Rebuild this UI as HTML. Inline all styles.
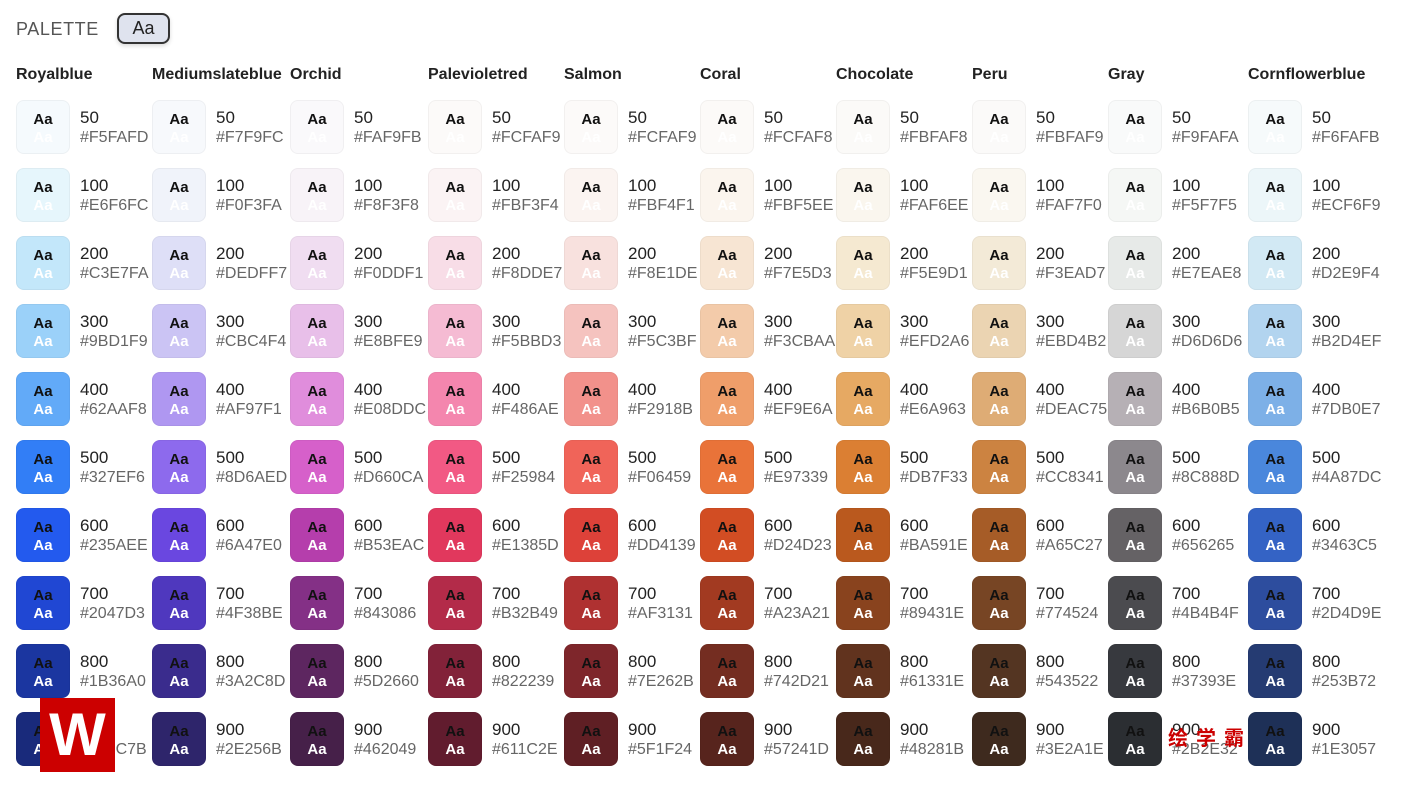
<!DOCTYPE html>
<html><head><meta charset="utf-8"><style>
*{margin:0;padding:0;box-sizing:border-box}
body{width:1414px;height:800px;background:#fff;position:relative;overflow:hidden;font-family:"Liberation Sans",sans-serif}
.t{position:absolute;left:16px;top:19px;font-size:18px;letter-spacing:0.6px;color:#555}
.btn{position:absolute;left:117px;top:13px;width:53px;height:31px;border:2px solid #333;border-radius:8px;background:#dfe3ee;font-size:18px;color:#222;text-align:center;line-height:27px;box-shadow:0 2px 4px rgba(0,0,0,.15)}
.h{position:absolute;top:66px;font-size:16px;font-weight:bold;color:#222;white-space:nowrap}
.c{position:absolute;width:136px;height:54px}
.c i{position:absolute;left:0;top:0;width:54px;height:54px;border-radius:8px;border:1px solid rgba(0,0,0,.04);font-style:normal;font-weight:bold;font-size:15px;text-align:center}
.c i b{position:absolute;left:0;right:0;top:10px;color:#111}
.c i u{position:absolute;left:0;right:0;top:28px;color:#fff;text-decoration:none}
.c s{position:absolute;left:64px;top:8px;font-size:17px;color:#222;text-decoration:none}
.c em{position:absolute;left:64px;top:29px;font-size:16px;color:#666;font-style:normal}
.logo{position:absolute;left:40px;top:698px;width:75px;height:74px;background:#c00;color:#fff;font-size:60px;font-weight:bold;text-align:center;line-height:74px}
.wm{position:absolute;left:1168px;top:722px;color:#c00;font-size:20px;font-weight:bold;letter-spacing:8px;font-family:"Liberation Sans","Noto Sans CJK SC",sans-serif}
</style></head><body>
<div class="t">PALETTE</div><div class="btn">Aa</div>
<div class="h" style="left:16px">Royalblue</div>
<div class="h" style="left:152px">Mediumslateblue</div>
<div class="h" style="left:290px">Orchid</div>
<div class="h" style="left:428px">Palevioletred</div>
<div class="h" style="left:564px">Salmon</div>
<div class="h" style="left:700px">Coral</div>
<div class="h" style="left:836px">Chocolate</div>
<div class="h" style="left:972px">Peru</div>
<div class="h" style="left:1108px">Gray</div>
<div class="h" style="left:1248px">Cornflowerblue</div>

<!-- Royalblue -->
<div class="c" style="left:16px;top:100px"><i style="background:#F5FAFD"><b>Aa</b><u>Aa</u></i><s>50</s><em>#F5FAFD</em></div>
<div class="c" style="left:16px;top:168px"><i style="background:#E6F6FC"><b>Aa</b><u>Aa</u></i><s>100</s><em>#E6F6FC</em></div>
<div class="c" style="left:16px;top:236px"><i style="background:#C3E7FA"><b>Aa</b><u>Aa</u></i><s>200</s><em>#C3E7FA</em></div>
<div class="c" style="left:16px;top:304px"><i style="background:#9BD1F9"><b>Aa</b><u>Aa</u></i><s>300</s><em>#9BD1F9</em></div>
<div class="c" style="left:16px;top:372px"><i style="background:#62AAF8"><b>Aa</b><u>Aa</u></i><s>400</s><em>#62AAF8</em></div>
<div class="c" style="left:16px;top:440px"><i style="background:#327EF6"><b>Aa</b><u>Aa</u></i><s>500</s><em>#327EF6</em></div>
<div class="c" style="left:16px;top:508px"><i style="background:#235AEE"><b>Aa</b><u>Aa</u></i><s>600</s><em>#235AEE</em></div>
<div class="c" style="left:16px;top:576px"><i style="background:#2047D3"><b>Aa</b><u>Aa</u></i><s>700</s><em>#2047D3</em></div>
<div class="c" style="left:16px;top:644px"><i style="background:#1B36A0"><b>Aa</b><u>Aa</u></i><s>800</s><em>#1B36A0</em></div>
<div class="c" style="left:16px;top:712px"><i style="background:#192A7B"><b>Aa</b><u>Aa</u></i><s>900</s><em>#192C7B</em></div>
<!-- Mediumslateblue -->
<div class="c" style="left:152px;top:100px"><i style="background:#F7F9FC"><b>Aa</b><u>Aa</u></i><s>50</s><em>#F7F9FC</em></div>
<div class="c" style="left:152px;top:168px"><i style="background:#F0F3FA"><b>Aa</b><u>Aa</u></i><s>100</s><em>#F0F3FA</em></div>
<div class="c" style="left:152px;top:236px"><i style="background:#DEDFF7"><b>Aa</b><u>Aa</u></i><s>200</s><em>#DEDFF7</em></div>
<div class="c" style="left:152px;top:304px"><i style="background:#CBC4F4"><b>Aa</b><u>Aa</u></i><s>300</s><em>#CBC4F4</em></div>
<div class="c" style="left:152px;top:372px"><i style="background:#AF97F1"><b>Aa</b><u>Aa</u></i><s>400</s><em>#AF97F1</em></div>
<div class="c" style="left:152px;top:440px"><i style="background:#8D6AED"><b>Aa</b><u>Aa</u></i><s>500</s><em>#8D6AED</em></div>
<div class="c" style="left:152px;top:508px"><i style="background:#6A47E0"><b>Aa</b><u>Aa</u></i><s>600</s><em>#6A47E0</em></div>
<div class="c" style="left:152px;top:576px"><i style="background:#4F38BE"><b>Aa</b><u>Aa</u></i><s>700</s><em>#4F38BE</em></div>
<div class="c" style="left:152px;top:644px"><i style="background:#3A2C8D"><b>Aa</b><u>Aa</u></i><s>800</s><em>#3A2C8D</em></div>
<div class="c" style="left:152px;top:712px"><i style="background:#2E256B"><b>Aa</b><u>Aa</u></i><s>900</s><em>#2E256B</em></div>
<!-- Orchid -->
<div class="c" style="left:290px;top:100px"><i style="background:#FAF9FB"><b>Aa</b><u>Aa</u></i><s>50</s><em>#FAF9FB</em></div>
<div class="c" style="left:290px;top:168px"><i style="background:#F8F3F8"><b>Aa</b><u>Aa</u></i><s>100</s><em>#F8F3F8</em></div>
<div class="c" style="left:290px;top:236px"><i style="background:#F0DDF1"><b>Aa</b><u>Aa</u></i><s>200</s><em>#F0DDF1</em></div>
<div class="c" style="left:290px;top:304px"><i style="background:#E8BFE9"><b>Aa</b><u>Aa</u></i><s>300</s><em>#E8BFE9</em></div>
<div class="c" style="left:290px;top:372px"><i style="background:#E08DDC"><b>Aa</b><u>Aa</u></i><s>400</s><em>#E08DDC</em></div>
<div class="c" style="left:290px;top:440px"><i style="background:#D660CA"><b>Aa</b><u>Aa</u></i><s>500</s><em>#D660CA</em></div>
<div class="c" style="left:290px;top:508px"><i style="background:#B53EAC"><b>Aa</b><u>Aa</u></i><s>600</s><em>#B53EAC</em></div>
<div class="c" style="left:290px;top:576px"><i style="background:#843086"><b>Aa</b><u>Aa</u></i><s>700</s><em>#843086</em></div>
<div class="c" style="left:290px;top:644px"><i style="background:#5D2660"><b>Aa</b><u>Aa</u></i><s>800</s><em>#5D2660</em></div>
<div class="c" style="left:290px;top:712px"><i style="background:#462049"><b>Aa</b><u>Aa</u></i><s>900</s><em>#462049</em></div>
<!-- Palevioletred -->
<div class="c" style="left:428px;top:100px"><i style="background:#FCFAF9"><b>Aa</b><u>Aa</u></i><s>50</s><em>#FCFAF9</em></div>
<div class="c" style="left:428px;top:168px"><i style="background:#FBF3F4"><b>Aa</b><u>Aa</u></i><s>100</s><em>#FBF3F4</em></div>
<div class="c" style="left:428px;top:236px"><i style="background:#F8DDE7"><b>Aa</b><u>Aa</u></i><s>200</s><em>#F8DDE7</em></div>
<div class="c" style="left:428px;top:304px"><i style="background:#F5BBD3"><b>Aa</b><u>Aa</u></i><s>300</s><em>#F5BBD3</em></div>
<div class="c" style="left:428px;top:372px"><i style="background:#F486AE"><b>Aa</b><u>Aa</u></i><s>400</s><em>#F486AE</em></div>
<div class="c" style="left:428px;top:440px"><i style="background:#F25984"><b>Aa</b><u>Aa</u></i><s>500</s><em>#F25984</em></div>
<div class="c" style="left:428px;top:508px"><i style="background:#E1385D"><b>Aa</b><u>Aa</u></i><s>600</s><em>#E1385D</em></div>
<div class="c" style="left:428px;top:576px"><i style="background:#B32B49"><b>Aa</b><u>Aa</u></i><s>700</s><em>#B32B49</em></div>
<div class="c" style="left:428px;top:644px"><i style="background:#822239"><b>Aa</b><u>Aa</u></i><s>800</s><em>#822239</em></div>
<div class="c" style="left:428px;top:712px"><i style="background:#611C2E"><b>Aa</b><u>Aa</u></i><s>900</s><em>#611C2E</em></div>
<!-- Salmon -->
<div class="c" style="left:564px;top:100px"><i style="background:#FCFAF9"><b>Aa</b><u>Aa</u></i><s>50</s><em>#FCFAF9</em></div>
<div class="c" style="left:564px;top:168px"><i style="background:#FBF4F1"><b>Aa</b><u>Aa</u></i><s>100</s><em>#FBF4F1</em></div>
<div class="c" style="left:564px;top:236px"><i style="background:#F8E1DE"><b>Aa</b><u>Aa</u></i><s>200</s><em>#F8E1DE</em></div>
<div class="c" style="left:564px;top:304px"><i style="background:#F5C3BF"><b>Aa</b><u>Aa</u></i><s>300</s><em>#F5C3BF</em></div>
<div class="c" style="left:564px;top:372px"><i style="background:#F2918B"><b>Aa</b><u>Aa</u></i><s>400</s><em>#F2918B</em></div>
<div class="c" style="left:564px;top:440px"><i style="background:#F06459"><b>Aa</b><u>Aa</u></i><s>500</s><em>#F06459</em></div>
<div class="c" style="left:564px;top:508px"><i style="background:#DD4139"><b>Aa</b><u>Aa</u></i><s>600</s><em>#DD4139</em></div>
<div class="c" style="left:564px;top:576px"><i style="background:#AF3131"><b>Aa</b><u>Aa</u></i><s>700</s><em>#AF3131</em></div>
<div class="c" style="left:564px;top:644px"><i style="background:#7E262B"><b>Aa</b><u>Aa</u></i><s>800</s><em>#7E262B</em></div>
<div class="c" style="left:564px;top:712px"><i style="background:#5F1F24"><b>Aa</b><u>Aa</u></i><s>900</s><em>#5F1F24</em></div>
<!-- Coral -->
<div class="c" style="left:700px;top:100px"><i style="background:#FCFAF8"><b>Aa</b><u>Aa</u></i><s>50</s><em>#FCFAF8</em></div>
<div class="c" style="left:700px;top:168px"><i style="background:#FBF5EE"><b>Aa</b><u>Aa</u></i><s>100</s><em>#FBF5EE</em></div>
<div class="c" style="left:700px;top:236px"><i style="background:#F7E5D3"><b>Aa</b><u>Aa</u></i><s>200</s><em>#F7E5D3</em></div>
<div class="c" style="left:700px;top:304px"><i style="background:#F3CBAA"><b>Aa</b><u>Aa</u></i><s>300</s><em>#F3CBAA</em></div>
<div class="c" style="left:700px;top:372px"><i style="background:#EF9E6A"><b>Aa</b><u>Aa</u></i><s>400</s><em>#EF9E6A</em></div>
<div class="c" style="left:700px;top:440px"><i style="background:#E97339"><b>Aa</b><u>Aa</u></i><s>500</s><em>#E97339</em></div>
<div class="c" style="left:700px;top:508px"><i style="background:#D24D23"><b>Aa</b><u>Aa</u></i><s>600</s><em>#D24D23</em></div>
<div class="c" style="left:700px;top:576px"><i style="background:#A23A21"><b>Aa</b><u>Aa</u></i><s>700</s><em>#A23A21</em></div>
<div class="c" style="left:700px;top:644px"><i style="background:#742D21"><b>Aa</b><u>Aa</u></i><s>800</s><em>#742D21</em></div>
<div class="c" style="left:700px;top:712px"><i style="background:#57241D"><b>Aa</b><u>Aa</u></i><s>900</s><em>#57241D</em></div>
<!-- Chocolate -->
<div class="c" style="left:836px;top:100px"><i style="background:#FBFAF8"><b>Aa</b><u>Aa</u></i><s>50</s><em>#FBFAF8</em></div>
<div class="c" style="left:836px;top:168px"><i style="background:#FAF6EE"><b>Aa</b><u>Aa</u></i><s>100</s><em>#FAF6EE</em></div>
<div class="c" style="left:836px;top:236px"><i style="background:#F5E9D1"><b>Aa</b><u>Aa</u></i><s>200</s><em>#F5E9D1</em></div>
<div class="c" style="left:836px;top:304px"><i style="background:#EFD2A6"><b>Aa</b><u>Aa</u></i><s>300</s><em>#EFD2A6</em></div>
<div class="c" style="left:836px;top:372px"><i style="background:#E6A963"><b>Aa</b><u>Aa</u></i><s>400</s><em>#E6A963</em></div>
<div class="c" style="left:836px;top:440px"><i style="background:#DB7F33"><b>Aa</b><u>Aa</u></i><s>500</s><em>#DB7F33</em></div>
<div class="c" style="left:836px;top:508px"><i style="background:#BA591E"><b>Aa</b><u>Aa</u></i><s>600</s><em>#BA591E</em></div>
<div class="c" style="left:836px;top:576px"><i style="background:#89431E"><b>Aa</b><u>Aa</u></i><s>700</s><em>#89431E</em></div>
<div class="c" style="left:836px;top:644px"><i style="background:#61331E"><b>Aa</b><u>Aa</u></i><s>800</s><em>#61331E</em></div>
<div class="c" style="left:836px;top:712px"><i style="background:#48281B"><b>Aa</b><u>Aa</u></i><s>900</s><em>#48281B</em></div>
<!-- Peru -->
<div class="c" style="left:972px;top:100px"><i style="background:#FBFAF9"><b>Aa</b><u>Aa</u></i><s>50</s><em>#FBFAF9</em></div>
<div class="c" style="left:972px;top:168px"><i style="background:#FAF7F0"><b>Aa</b><u>Aa</u></i><s>100</s><em>#FAF7F0</em></div>
<div class="c" style="left:972px;top:236px"><i style="background:#F3EAD7"><b>Aa</b><u>Aa</u></i><s>200</s><em>#F3EAD7</em></div>
<div class="c" style="left:972px;top:304px"><i style="background:#EBD4B2"><b>Aa</b><u>Aa</u></i><s>300</s><em>#EBD4B2</em></div>
<div class="c" style="left:972px;top:372px"><i style="background:#DEAC75"><b>Aa</b><u>Aa</u></i><s>400</s><em>#DEAC75</em></div>
<div class="c" style="left:972px;top:440px"><i style="background:#CC8341"><b>Aa</b><u>Aa</u></i><s>500</s><em>#CC8341</em></div>
<div class="c" style="left:972px;top:508px"><i style="background:#A65C27"><b>Aa</b><u>Aa</u></i><s>600</s><em>#A65C27</em></div>
<div class="c" style="left:972px;top:576px"><i style="background:#774524"><b>Aa</b><u>Aa</u></i><s>700</s><em>#774524</em></div>
<div class="c" style="left:972px;top:644px"><i style="background:#543522"><b>Aa</b><u>Aa</u></i><s>800</s><em>#543522</em></div>
<div class="c" style="left:972px;top:712px"><i style="background:#3E2A1E"><b>Aa</b><u>Aa</u></i><s>900</s><em>#3E2A1E</em></div>
<!-- Gray -->
<div class="c" style="left:1108px;top:100px"><i style="background:#F9FAFA"><b>Aa</b><u>Aa</u></i><s>50</s><em>#F9FAFA</em></div>
<div class="c" style="left:1108px;top:168px"><i style="background:#F5F7F5"><b>Aa</b><u>Aa</u></i><s>100</s><em>#F5F7F5</em></div>
<div class="c" style="left:1108px;top:236px"><i style="background:#E7EAE8"><b>Aa</b><u>Aa</u></i><s>200</s><em>#E7EAE8</em></div>
<div class="c" style="left:1108px;top:304px"><i style="background:#D6D6D6"><b>Aa</b><u>Aa</u></i><s>300</s><em>#D6D6D6</em></div>
<div class="c" style="left:1108px;top:372px"><i style="background:#B6B0B5"><b>Aa</b><u>Aa</u></i><s>400</s><em>#B6B0B5</em></div>
<div class="c" style="left:1108px;top:440px"><i style="background:#8C888D"><b>Aa</b><u>Aa</u></i><s>500</s><em>#8C888D</em></div>
<div class="c" style="left:1108px;top:508px"><i style="background:#656265"><b>Aa</b><u>Aa</u></i><s>600</s><em>#656265</em></div>
<div class="c" style="left:1108px;top:576px"><i style="background:#4B4B4F"><b>Aa</b><u>Aa</u></i><s>700</s><em>#4B4B4F</em></div>
<div class="c" style="left:1108px;top:644px"><i style="background:#37393E"><b>Aa</b><u>Aa</u></i><s>800</s><em>#37393E</em></div>
<div class="c" style="left:1108px;top:712px"><i style="background:#2B2E32"><b>Aa</b><u>Aa</u></i><s>900</s><em>#2B2E32</em></div>
<!-- Cornflowerblue -->
<div class="c" style="left:1248px;top:100px"><i style="background:#F6FAFB"><b>Aa</b><u>Aa</u></i><s>50</s><em>#F6FAFB</em></div>
<div class="c" style="left:1248px;top:168px"><i style="background:#ECF6F9"><b>Aa</b><u>Aa</u></i><s>100</s><em>#ECF6F9</em></div>
<div class="c" style="left:1248px;top:236px"><i style="background:#D2E9F4"><b>Aa</b><u>Aa</u></i><s>200</s><em>#D2E9F4</em></div>
<div class="c" style="left:1248px;top:304px"><i style="background:#B2D4EF"><b>Aa</b><u>Aa</u></i><s>300</s><em>#B2D4EF</em></div>
<div class="c" style="left:1248px;top:372px"><i style="background:#7DB0E7"><b>Aa</b><u>Aa</u></i><s>400</s><em>#7DB0E7</em></div>
<div class="c" style="left:1248px;top:440px"><i style="background:#4A87DC"><b>Aa</b><u>Aa</u></i><s>500</s><em>#4A87DC</em></div>
<div class="c" style="left:1248px;top:508px"><i style="background:#3463C5"><b>Aa</b><u>Aa</u></i><s>600</s><em>#3463C5</em></div>
<div class="c" style="left:1248px;top:576px"><i style="background:#2D4D9E"><b>Aa</b><u>Aa</u></i><s>700</s><em>#2D4D9E</em></div>
<div class="c" style="left:1248px;top:644px"><i style="background:#253B72"><b>Aa</b><u>Aa</u></i><s>800</s><em>#253B72</em></div>
<div class="c" style="left:1248px;top:712px"><i style="background:#1E3057"><b>Aa</b><u>Aa</u></i><s>900</s><em>#1E3057</em></div>

<div class="logo">W</div>
<div class="wm">绘学霸</div>
</body></html>
